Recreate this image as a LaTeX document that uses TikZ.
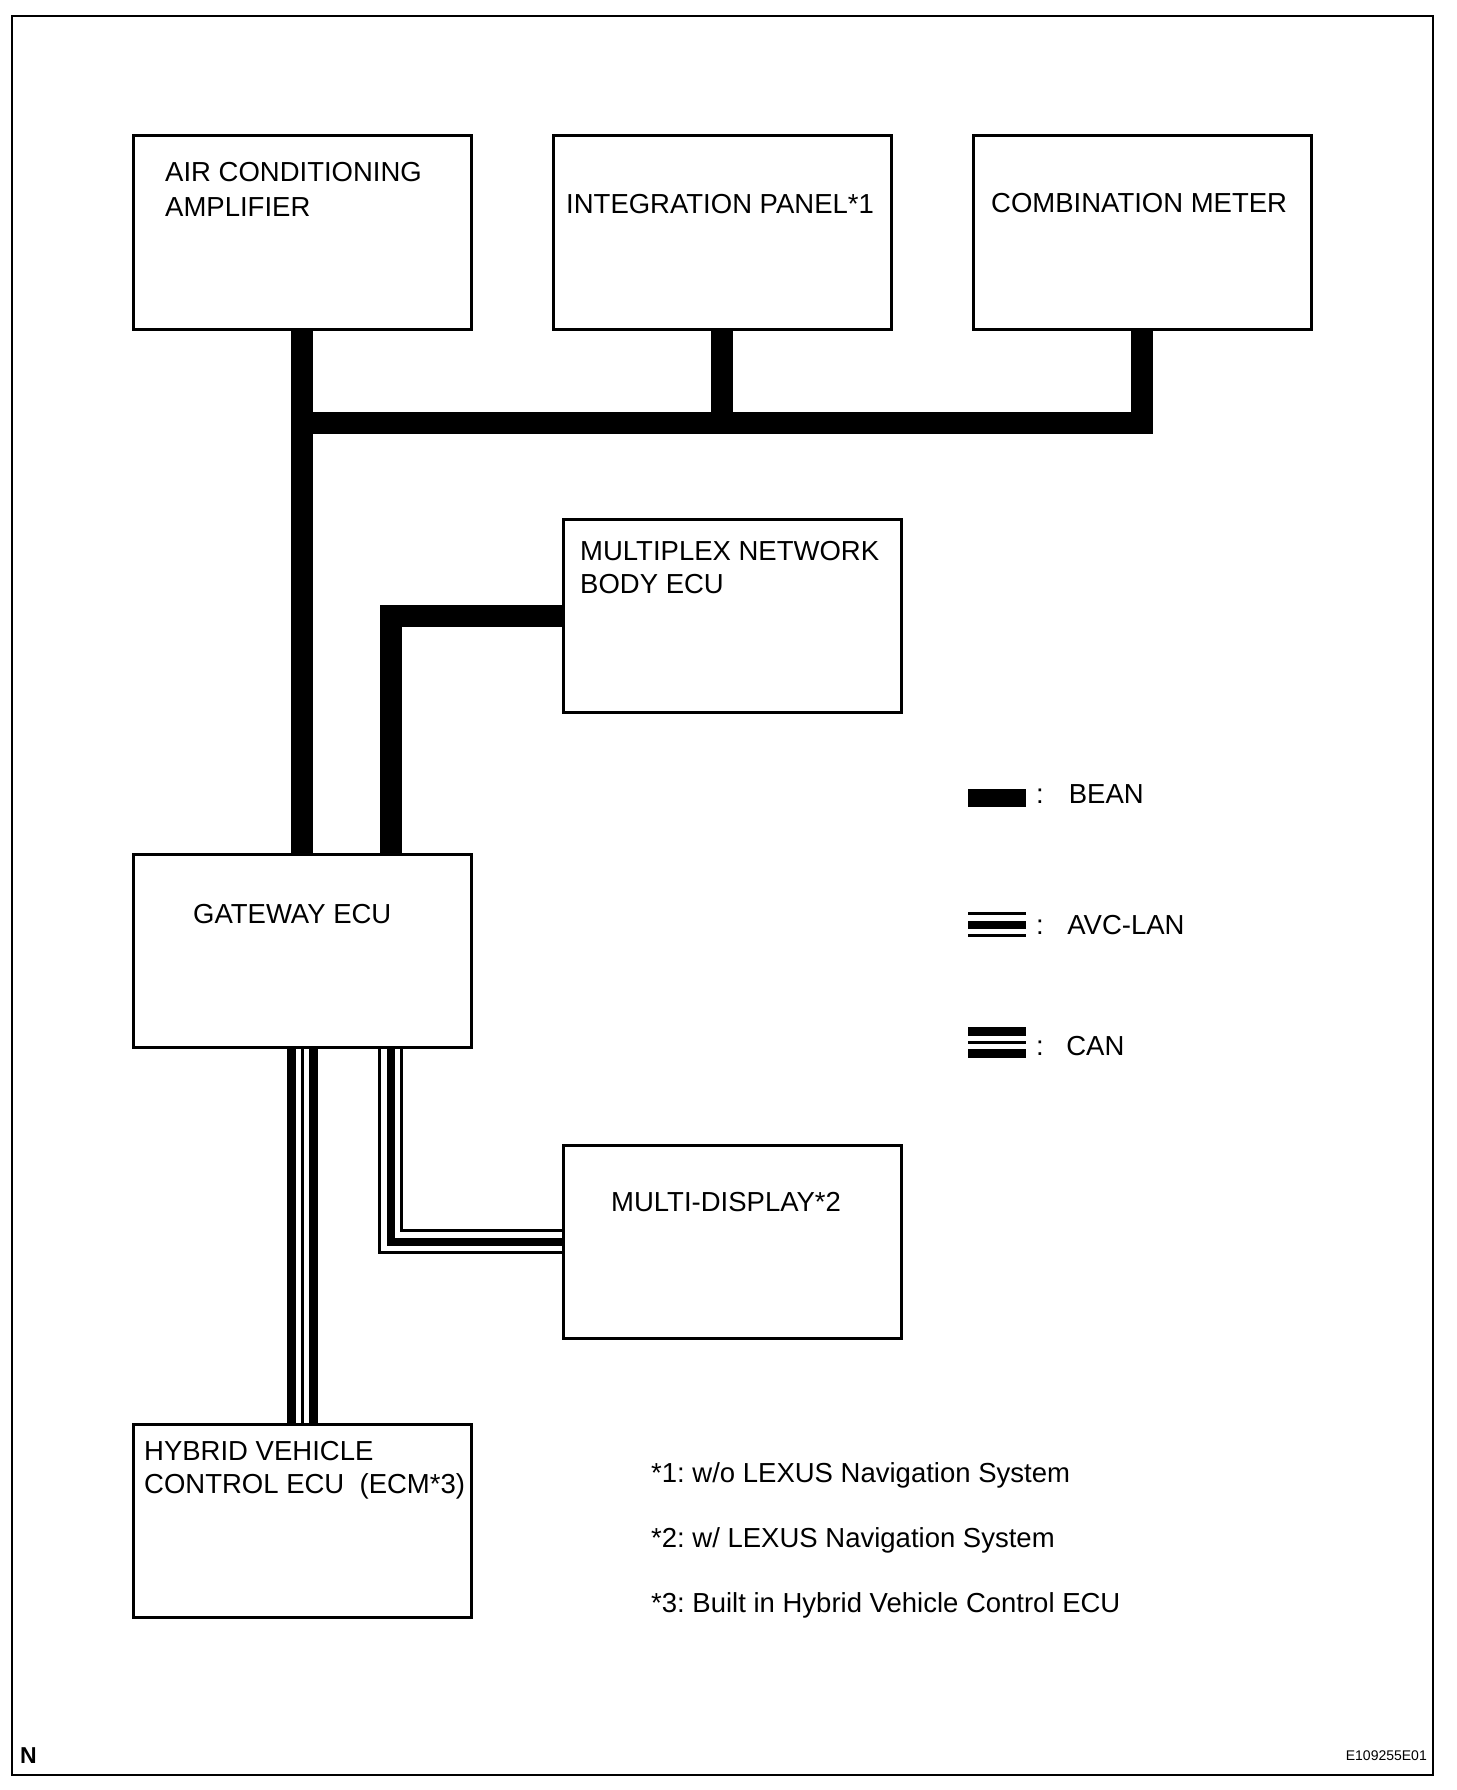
\documentclass[tikz,border=0pt]{standalone}
\usepackage{fontspec}
\setmainfont{Liberation Sans}
\usetikzlibrary{calc}
\frenchspacing
\begin{document}
\begin{tikzpicture}[x=1pt,y=-1pt,
  box/.style={draw, line width=3pt, minimum width=338pt, minimum height=193pt, inner sep=0pt, fill=white},
  lbl/.style={anchor=base west, inner sep=0pt, font=\fontsize{27.5}{33}\selectfont},
  bean/.style={draw=black, line width=22pt, line join=miter},
  avc/.style={draw=black, line width=25pt, line join=miter,
    postaction={draw=white, line width=19pt},
    postaction={draw=black, line width=8pt}},
  can/.style={draw=black, line width=31pt, line join=miter,
    postaction={draw=white, line width=13pt},
    postaction={draw=black, line width=3pt}}
]
\useasboundingbox (0,0) rectangle (1456,1790);
\draw[line width=2.5pt] (12,16) rectangle (1433,1775);

% boxes
\node[box] (ac) at (302,232.5) {};
\node[box] (ip) at (722,232.5) {};
\node[box] (cm) at (1142,232.5) {};
\node[box] (mx) at (732.5,616) {};
\node[box] (gw) at (302,951) {};
\node[box] (md) at (732.5,1241.5) {};
\node[box] (hv) at (302,1520.5) {};

% labels
\node[lbl] (tac1) at (165,182) {AIR CONDITIONING};
\node[lbl] (tac2) at (165,216) {AMPLIFIER};
\node[lbl] (tip) at (566,213) {INTEGRATION PANEL*1};
\node[lbl] (tcm) at (991,212) {COMBINATION METER};
\node[lbl] (tmx1) at (580,560) {MULTIPLEX NETWORK};
\node[lbl] (tmx2) at (580,593.5) {BODY ECU};
\node[lbl] (tgw) at (193,923.5) {GATEWAY ECU};
\node[lbl] (tmd) at (611,1211) {MULTI-DISPLAY*2};
\node[lbl] (thv1) at (144,1460) {HYBRID VEHICLE};
\node[lbl] (thv2) at (144,1493.5) {CONTROL ECU~~(ECM*3)};

% BEAN wiring
\coordinate (bus) at (302,422.5);
\draw[bean] (ac.south) -- (gw.north);
\draw[bean] (ip.south) -- (ip.south |- bus);
\draw[bean] (cm.south) -- (cm.south |- bus) -- (bus);
\coordinate (gwb) at ($(gw.north)+(89,0)$);
\draw[bean] (mx.west) -| (gwb);

% CAN and AVC-LAN
\draw[can] (gw.south) -- (hv.north);
\coordinate (gwa) at ($(gw.south)+(88.5,0)$);
\draw[avc] (gwa) |- (md.west);

% legend
\fill (968,789) rectangle (1026,806.5);
\draw[avc] (968,924.5) -- (1026,924.5);
\draw[can] (968,1042.5) -- (1026,1042.5);
\node[lbl] (lg1) at (1036,803) {:\hspace{25pt}BEAN};
\node[lbl] (lg2) at (1036,934) {:\hspace{23.5pt}AVC-LAN};
\node[lbl] (lg3) at (1036,1055) {:\hspace{22.5pt}CAN};

% footnotes
\node[lbl] (fn1) at (651,1482) {*1: w/o LEXUS Navigation System};
\node[lbl] (fn2) at (651,1547) {*2: w/ LEXUS Navigation System};
\node[lbl] (fn3) at (651,1612) {*3: Built in Hybrid Vehicle Control ECU};

% corner marks
\node[anchor=base west, inner sep=0pt, font=\fontsize{23}{23}\selectfont\bfseries] (nmark) at (20,1763) {N};
\node[anchor=base east, inner sep=0pt, font=\fontsize{14}{14}\selectfont] (code) at (1427,1760) {E109255E01};
\end{tikzpicture}
\end{document}
